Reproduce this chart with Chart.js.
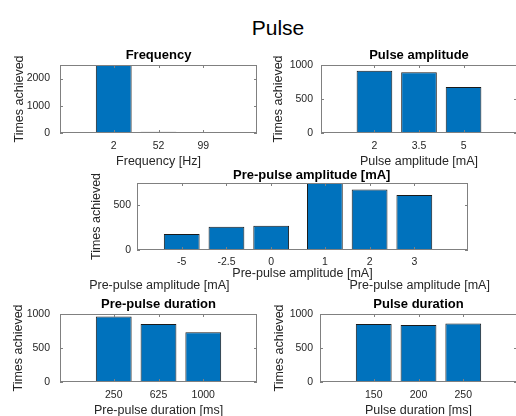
<!DOCTYPE html>
<html>
<head>
<meta charset="utf-8">
<title>Pulse</title>
<script src="https://cdn.jsdelivr.net/npm/chart.js@4.4.1/dist/chart.umd.min.js"></script>
<style>
  html, body { margin: 0; padding: 0; background: #fff; overflow: hidden; }
  #fig { position: relative; width: 516px; height: 416px; overflow: hidden; }
  #fig canvas { position: absolute; }
  #suptitle {
    position: absolute; left: 0; width: 556px; top: 17px;
    text-align: center; color: #000;
    font: 21px/21px 'Liberation Sans', Arial, sans-serif;
  }
</style>
</head>
<body>
<div id="fig">
  <div id="suptitle">Pulse</div>
  <canvas id="freq"></canvas>
  <canvas id="amp"></canvas>
  <canvas id="preAmp"></canvas>
  <canvas id="preDur"></canvas>
  <canvas id="dur"></canvas>
</div>
<script>
// counts per stimulation setting
const freqLabels = ['2', '52', '99'];
const freqCounts = [2500, 45, 0];
const freqTicks = [0, 1000, 2000];

const ampLabels = ['2', '3.5', '5'];
const ampCounts = [915, 892, 676];

const preAmpLabels = ['-5', '-2.5', '0', '1', '2', '3'];
const preAmpCounts = [178, 260, 271, 750, 677, 617];
const preAmpTicks = [0, 500];

const preDurLabels = ['250', '625', '1000'];
const preDurCounts = [964, 852, 733];

const durLabels = ['150', '200', '250'];
const durCounts = [852, 837, 861];

const countTicks = [0, 500, 1000];

const FONT = "'Liberation Sans', Arial, sans-serif";
const BAR = '#0072BD';
const EDGE = '#1a1a1a';
const AXIS = '#808080';
const TEXT = '#262626';

// one slot per category, optional extra gap between groups
function slots(n, groupSize, gap) {
    const out = [];
    for (let i = 0; i < n; i++) {
        out.push(i + (groupSize ? Math.floor(i / groupSize) * gap : 0));
    }
    return out;
}

// box around the axes with small inward tick marks
const axesBox = {
    id: 'axesBox',
    afterDatasetsDraw(chart) {
        const { ctx, chartArea: a, scales: { x, y } } = chart;
        ctx.save();
        ctx.strokeStyle = AXIS;
        ctx.lineWidth = 1;
        ctx.strokeRect(a.left + 0.5, a.top + 0.5, a.right - a.left - 1, a.bottom - a.top - 1);
        ctx.beginPath();
        x.ticks.forEach(t => {
            const px = Math.round(x.getPixelForValue(t.value)) + 0.5;
            ctx.moveTo(px, a.bottom); ctx.lineTo(px, a.bottom - 3);
            ctx.moveTo(px, a.top); ctx.lineTo(px, a.top + 3);
        });
        y.ticks.forEach(t => {
            const py = Math.round(y.getPixelForValue(t.value)) + 0.5;
            ctx.moveTo(a.left, py); ctx.lineTo(a.left + 3, py);
            ctx.moveTo(a.right, py); ctx.lineTo(a.right - 3, py);
        });
        ctx.stroke();
        ctx.restore();
    }
};

// free text placed relative to the plot area
const extraText = {
    id: 'extraText',
    afterDraw(chart, args, opts) {
        const { ctx, chartArea: a } = chart;
        (opts.items || []).forEach(it => {
            ctx.save();
            ctx.font = (it.bold ? 'bold ' : '') + it.size + 'px ' + FONT;
            ctx.fillStyle = it.color || TEXT;
            ctx.textAlign = 'center';
            ctx.textBaseline = 'alphabetic';
            ctx.fillText(it.text, a.left + it.x, (it.fromTop ? a.top : a.bottom) + it.y);
            ctx.restore();
        });
    }
};

function panel(id, o) {
    const pos = slots(o.labels.length, o.groupSize, o.gap || 0);
    const yw = 60, titleH = 18;
    const c = document.getElementById(id);
    const left = o.area[0] - yw;
    const top = o.area[2] - titleH;
    const padR = o.padR || 0;
    c.width = o.area[1] - left + padR;
    c.height = o.area[3] - top + o.xh;
    c.style.left = left + 'px';
    c.style.top = top + 'px';

    new Chart(c, {
        type: 'bar',
        data: {
            datasets: [{
                data: o.counts.map((v, i) => ({ x: pos[i], y: v })),
                backgroundColor: BAR,
                borderColor: EDGE,
                borderWidth: 1,
                borderSkipped: false,
                barPercentage: 0.8,
                categoryPercentage: 1
            }]
        },
        options: {
            animation: false,
            responsive: false,
            events: [],
            layout: { padding: { top: o.title ? 0 : titleH, right: padR } },
            plugins: {
                legend: { display: false },
                tooltip: { enabled: false },
                title: {
                    display: !!o.title,
                    text: o.title,
                    color: '#000',
                    font: { family: FONT, size: 13, weight: 'bold', lineHeight: 16 / 13 },
                    padding: { top: 0, bottom: 2 },
                    fullSize: false
                },
                extraText: { items: o.extra || [] }
            },
            scales: {
                x: {
                    type: 'linear',
                    offset: false,
                    min: -o.padL,
                    max: pos[pos.length - 1] + o.padRight,
                    grid: { display: false, drawTicks: false, offset: false },
                    border: { display: false },
                    afterBuildTicks: s => { s.ticks = pos.map(v => ({ value: v })); },
                    afterFit: s => { s.height = o.xh; },
                    ticks: {
                        autoSkip: false,
                        maxRotation: 0,
                        padding: o.xTickPad,
                        color: TEXT,
                        font: { family: FONT, size: 10.5 },
                        callback: (v, i) => o.labels[i]
                    },
                    title: {
                        display: true,
                        text: o.xTitle,
                        color: TEXT,
                        font: { family: FONT, size: 12.5, lineHeight: 1.2 },
                        padding: { top: 0, bottom: o.xTitlePad }
                    }
                },
                y: {
                    min: 0,
                    max: o.yMax,
                    grid: { display: false, drawTicks: false },
                    border: { display: false },
                    afterBuildTicks: s => { s.ticks = o.yTicks.map(v => ({ value: v })); },
                    afterFit: s => { s.width = yw; },
                    ticks: {
                        padding: o.yTickPad,
                        color: TEXT,
                        font: { family: FONT, size: 10.5 },
                        callback: v => String(v)
                    },
                    title: {
                        display: true,
                        text: 'Times achieved',
                        color: TEXT,
                        font: { family: FONT, size: 12.5, lineHeight: 1.2 },
                        padding: { top: o.yTitlePad, bottom: 0 }
                    }
                }
            }
        },
        plugins: [axesBox, extraText]
    });
}

panel('freq', {
    title: 'Frequency', xTitle: 'Frequency [Hz]',
    labels: freqLabels, counts: freqCounts, yTicks: freqTicks, yMax: 2500,
    area: [60, 257, 65, 133], xh: 42, padL: 1.2, padRight: 1.2,
    xTickPad: 7, xTitlePad: 6, yTickPad: 10, yTitlePad: 12.5
});

panel('amp', {
    title: 'Pulse amplitude', xTitle: 'Pulse amplitude [mA]',
    labels: ampLabels, counts: ampCounts, yTicks: countTicks, yMax: 1000,
    area: [321, 517, 65, 133], xh: 42, padL: 1.2, padRight: 1.2,
    xTickPad: 7, xTitlePad: 6, yTickPad: 8, yTitlePad: 10.5
});

panel('preAmp', {
    xTitle: 'Pre-pulse amplitude [mA]',
    labels: preAmpLabels, counts: preAmpCounts, yTicks: preAmpTicks, yMax: 750,
    groupSize: 3, gap: 0.2,
    area: [137, 468, 183, 250], xh: 45, padR: 30, padL: 1, padRight: 1.2,
    xTickPad: 6, xTitlePad: 14, yTickPad: 6, yTitlePad: 12,
    extra: [
        { text: 'Pre-pulse amplitude [mA]', bold: true, size: 13, color: '#000', x: 174.7, y: -4, fromTop: true },
        { text: 'Pre-pulse amplitude [mA]', size: 12.5, x: 22.3, y: 39 },
        { text: 'Pre-pulse amplitude [mA]', size: 12.5, x: 282.7, y: 39 }
    ]
});

panel('preDur', {
    title: 'Pre-pulse duration', xTitle: 'Pre-pulse duration [ms]',
    labels: preDurLabels, counts: preDurCounts, yTicks: countTicks, yMax: 1000,
    area: [60, 257, 314, 382], xh: 42, padL: 1.2, padRight: 1.2,
    xTickPad: 7, xTitlePad: 6, yTickPad: 10, yTitlePad: 11.5
});

panel('dur', {
    title: 'Pulse duration', xTitle: 'Pulse duration [ms]',
    labels: durLabels, counts: durCounts, yTicks: countTicks, yMax: 1000,
    area: [320, 517, 314, 382], xh: 42, padL: 1.2, padRight: 1.2,
    xTickPad: 7, xTitlePad: 6, yTickPad: 7, yTitlePad: 12
});
</script>
</body>
</html>
